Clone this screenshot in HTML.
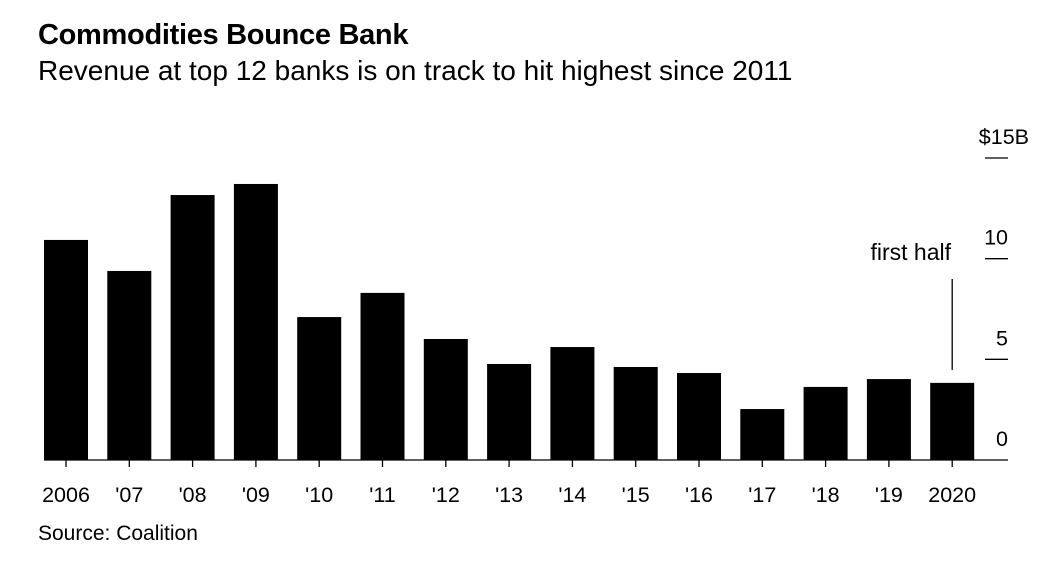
<!DOCTYPE html>
<html><head><meta charset="utf-8"><style>
body{margin:0;background:#fff;font-family:"Liberation Sans",sans-serif;}
#wrap{position:relative;width:1054px;height:568px;overflow:hidden;}
.t{position:absolute;white-space:nowrap;color:#000;}
</style></head><body>
<div id="wrap">
<div class="t" style="left:38px;top:19px;font-size:29px;font-weight:bold;letter-spacing:-0.3px">Commodities Bounce Bank</div>
<div class="t" style="left:38px;top:55px;font-size:28px">Revenue at top 12 banks is on track to hit highest since 2011</div>
<svg id="chart" width="1054" height="568" style="position:absolute;left:0;top:0"></svg>
<div class="t" style="left:38px;top:522px;font-size:21px">Source: Coalition</div>
</div>
<script>
const categories=["2006","'07","'08","'09","'10","'11","'12","'13","'14","'15","'16","'17","'18","'19","2020"];
const values=[10.93,9.39,13.16,13.71,7.1,8.3,6.01,4.77,5.61,4.62,4.32,2.53,3.63,4.02,3.83];
const tickValues=[0,5,10,15];
const tickLabels=["0","5","10","$15B"];
const NS="http://www.w3.org/2000/svg";
const svg=document.getElementById('chart');
const y0=460,pxPer=(460-158)/15;
function yScale(v){return y0-v*pxPer;}
function xScale(i){return 44+i*63.3;}
const bw=44;
const FS=21.5;
function mk(tag,attrs){const e=document.createElementNS(NS,tag);for(const k in attrs)e.setAttribute(k,attrs[k]);svg.appendChild(e);return e;}
values.forEach((v,i)=>{
 const r=mk('rect',{x:xScale(i),y:yScale(v),width:bw,height:y0-yScale(v),fill:'#000'});
 
 
 const tk=mk('line',{x1:xScale(i)+bw/2,x2:xScale(i)+bw/2,y1:y0,y2:y0+7,stroke:'#000','stroke-width':1.3});
 
 
 const t=mk('text',{x:xScale(i)+bw/2,y:y0+42,'text-anchor':'middle','font-size':FS,'font-family':'Liberation Sans, sans-serif'});
 t.textContent=categories[i];
 
 
});
const ax=mk('line',{x1:44,x2:1008,y1:y0,y2:y0,stroke:'#000','stroke-width':1.3});


tickValues.forEach((v,i)=>{
 if(v>0){const l=mk('line',{x1:985,x2:1008,y1:yScale(v),y2:yScale(v),stroke:'#000','stroke-width':1.3});
 
 }
 const t=mk('text',{x:v===15?1029:1008,y:v===0?y0-14:yScale(v)-14,'text-anchor':'end','font-size':FS,'font-family':'Liberation Sans, sans-serif'});
 t.textContent=tickLabels[i];
 
 
});
const last=values.length-1;
const al=mk('line',{x1:xScale(last)+bw/2,x2:xScale(last)+bw/2,y1:279,y2:yScale(values[last])-13,stroke:'#000','stroke-width':1.3});


const at=mk('text',{x:951,y:260,'text-anchor':'end','font-size':23,'font-family':'Liberation Sans, sans-serif'});
at.textContent='first half';


</script>
</body></html>
